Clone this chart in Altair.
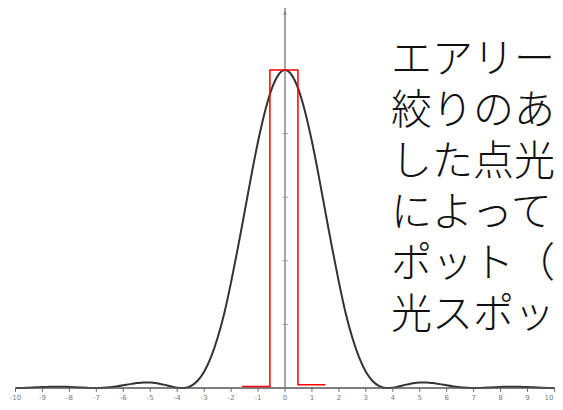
import altair as alt
import pandas as pd

# Airy pattern intensity
x_vals = [-10.0, -9.75, -9.5, -9.25, -9.0, -8.75, -8.5, -8.25, -8.0, -7.75,
          -7.5, -7.25, -7.0, -6.75, -6.5, -6.25, -6.0, -5.75, -5.5, -5.25,
          -5.0, -4.75, -4.5, -4.25, -4.0, -3.75, -3.5, -3.25, -3.0, -2.75,
          -2.5, -2.25, -2.0, -1.75, -1.5, -1.25, -1.0, -0.75, -0.5, -0.25,
          0.0, 0.25, 0.5, 0.75, 1.0, 1.25, 1.5, 1.75, 2.0, 2.25,
          2.5, 2.75, 3.0, 3.25, 3.5, 3.75, 4.0, 4.25, 4.5, 4.75,
          5.0, 5.25, 5.5, 5.75, 6.0, 6.25, 6.5, 6.75, 7.0, 7.25,
          7.5, 7.75, 8.0, 8.25, 8.5, 8.75, 9.0, 9.25, 9.5, 9.75, 10.0]
intensity = [0.0001, 0.0004, 0.0012, 0.0020, 0.0030, 0.0036, 0.0041, 0.0041, 0.0034, 0.0025,
             0.0013, 0.0004, 0.0, 0.0006, 0.0022, 0.0051, 0.0085, 0.0122, 0.0154, 0.0176,
             0.0172, 0.0149, 0.0106, 0.0056, 0.001, 0.0002, 0.006, 0.022, 0.051, 0.096,
             0.158, 0.236, 0.333, 0.440, 0.553, 0.668, 0.775, 0.867, 0.939, 0.984,
             1.0, 0.984, 0.939, 0.867, 0.775, 0.668, 0.553, 0.440, 0.333, 0.236,
             0.158, 0.096, 0.051, 0.022, 0.006, 0.0002, 0.001, 0.0056, 0.0106, 0.0149,
             0.0172, 0.0176, 0.0154, 0.0122, 0.0085, 0.0051, 0.0022, 0.0006, 0.0, 0.0004,
             0.0013, 0.0025, 0.0034, 0.0041, 0.0041, 0.0036, 0.0030, 0.0020, 0.0012, 0.0004, 0.0001]

# Red aperture (rectangle) profile
red_x = [-1.6, -0.56, -0.56, 0.48, 0.48, 1.5]
red_y = [0.005, 0.005, 1.0, 1.0, 0.01, 0.01]
red_order = [0, 1, 2, 3, 4, 5]

x_ticks = [-10, -9, -8, -7, -6, -5, -4, -3, -2, -1, 0, 1, 2, 3, 4, 5, 6, 7, 8, 9, 10]
x_labels = ["-10", "-9", "-8", "-7", "-6", "-5", "-4", "-3", "-2", "-1", "0",
            "1", "2", "3", "4", "5", "6", "7", "8", "9", "10"]
y_ticks = [0.2, 0.4, 0.6, 0.8]

text_lines = ["エアリー", "絞りのあ", "した点光", "によって", "ポット（", "光スポッ"]

curve_df = pd.DataFrame({"x": x_vals, "y": intensity})
red_df = pd.DataFrame({"x": red_x, "y": red_y, "o": red_order})
xt_df = pd.DataFrame({"x": x_ticks, "label": x_labels})
yt_df = pd.DataFrame({"y": y_ticks})
one = pd.DataFrame({"a": [0]})

xs = alt.Scale(domain=[-10.278, 10.019], nice=False, zero=False)
ys = alt.Scale(domain=[-0.044, 1.195], nice=False, zero=False)

x_axis = alt.Chart(one).mark_rule(color="#555", strokeWidth=1.5).encode(
    x=alt.datum(-10), x2=alt.datum(10), y=alt.datum(0))

x_tick_marks = alt.Chart(xt_df).mark_rule(color="#666", strokeWidth=1).encode(
    x=alt.X("x:Q", scale=xs, axis=None),
    y=alt.datum(0), y2=alt.datum(-0.012))

label_style = dict(fontSize=7, color="#777", baseline="middle", font="DejaVu Sans")

x_tick_labels = alt.Chart(xt_df).mark_text(align="center", **label_style).encode(
    x=alt.X("x:Q", scale=xs, axis=None), y=alt.datum(-0.031), text="label:N"
).transform_filter(alt.datum.x < 10)

x_last_label = alt.Chart(xt_df).mark_text(align="right", dx=-1, **label_style).encode(
    x=alt.X("x:Q", scale=xs, axis=None), y=alt.datum(-0.031), text="label:N"
).transform_filter(alt.datum.x >= 10)

y_axis = alt.Chart(one).mark_rule(color="#888", strokeWidth=1.5).encode(
    x=alt.datum(0), y=alt.datum(0), y2=alt.datum(1.195))

y_tick_marks = alt.Chart(yt_df).mark_rule(color="#999", strokeWidth=1).encode(
    y=alt.Y("y:Q", scale=ys, axis=None),
    x=alt.datum(-0.09), x2=alt.datum(0.11))

arrow = alt.Chart(one).mark_point(shape="triangle-up", filled=True, size=18,
                                  color="#888", opacity=1).encode(
    x=alt.datum(0), y=alt.datum(1.18))

curve = alt.Chart(curve_df).mark_line(color="#333", strokeWidth=2,
                                      interpolate="monotone", clip=True).encode(
    x=alt.X("x:Q", scale=xs, axis=None),
    y=alt.Y("y:Q", scale=ys, axis=None))

red = alt.Chart(red_df).mark_line(color="#ff0000", strokeWidth=1.5).encode(
    x=alt.X("x:Q", scale=xs, axis=None),
    y=alt.Y("y:Q", scale=ys, axis=None),
    order=alt.Order("o:Q"))

label = alt.Chart(one).mark_text(
    align="left", baseline="alphabetic", fontSize=41,
    font="Noto Sans CJK JP Light, Noto Sans CJK JP", fontWeight=300,
    lineBreak="\n", lineHeight=51, color="#111"
).encode(x=alt.value(383), y=alt.value(65), text=alt.value("\n".join(text_lines)))

chart = alt.layer(
    curve, x_axis, x_tick_marks, x_tick_labels, x_last_label, y_axis, y_tick_marks,
    arrow, red, label
).properties(
    width=547, height=394, padding=0, autosize="none", background="white"
).configure_view(stroke=None).configure_axis(disable=True)

chart.save("out.html", embed_options={"renderer": "svg", "actions": False})
